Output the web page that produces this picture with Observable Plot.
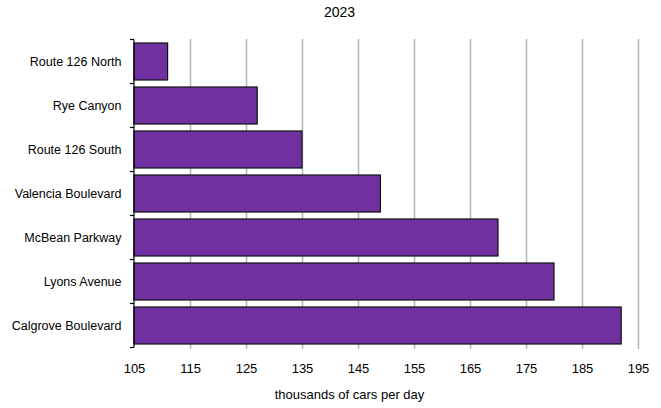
<!DOCTYPE html>
<html>
<head>
<meta charset="utf-8">
<script src="https://cdn.jsdelivr.net/npm/d3@7"></script>
<script src="https://cdn.jsdelivr.net/npm/@observablehq/plot@0.6"></script>
<style>
  html, body { margin: 0; padding: 0; background: #fff; }
  #chart svg { display: block; }
</style>
</head>
<body>
<div id="chart"></div>
<script>
// Average daily traffic by road, 2023
const roads = [
  "Route 126 North",
  "Rye Canyon",
  "Route 126 South",
  "Valencia Boulevard",
  "McBean Parkway",
  "Lyons Avenue",
  "Calgrove Boulevard"
];
const carsPerDay = [111, 127, 135, 149, 170, 180, 192];
const xTicks = [105, 115, 125, 135, 145, 155, 165, 175, 185, 195];
const title = "2023";
const xLabel = "thousands of cars per day";

const data = roads.map((road, i) => ({road, value: carsPerDay[i]}));

const FONT = "'Liberation Sans', Arial, sans-serif";
const W = 661, H = 408;
const M = {top: 39, right: 23, bottom: 59, left: 134};
const padInner = 0.155;

// Left axis: vertical line with short ticks at the category boundaries
function bandAxis(index, scales, values, dims) {
  const y = scales.y;
  const step = typeof y.step === "function" ? y.step()
    : (dims.height - dims.marginTop - dims.marginBottom) / roads.length;
  const bw = typeof y.bandwidth === "function" ? y.bandwidth() : step * (1 - padInner);
  const x0 = dims.marginLeft;
  const g = d3.create("svg:g").attr("stroke", "#000").attr("stroke-width", 1.2);
  const bounds = roads.map(r => y(r) - (step - bw) / 2);
  bounds.push(bounds[bounds.length - 1] + step);
  g.append("line")
    .attr("x1", x0).attr("x2", x0)
    .attr("y1", bounds[0]).attr("y2", bounds[bounds.length - 1]);
  for (const b of bounds) {
    g.append("line").attr("x1", x0 - 4).attr("x2", x0).attr("y1", b).attr("y2", b);
  }
  return g.node();
}

const chart = Plot.plot({
  width: W,
  height: H,
  marginTop: M.top,
  marginRight: M.right,
  marginBottom: M.bottom,
  marginLeft: M.left,
  style: {fontFamily: FONT, fontSize: "12.5px", color: "#000", background: "#fff"},
  x: {domain: [105, 195], ticks: xTicks},
  y: {domain: roads, paddingInner: padInner, paddingOuter: padInner / 2},
  marks: [
    Plot.gridX(xTicks.slice(1), {stroke: "#b3b3b3", strokeOpacity: 1, strokeWidth: 1.5}),
    Plot.barX(data, {x1: 105, x2: "value", y: "road", fill: "#7030a0", stroke: "#111", strokeWidth: 1.2}),
    Plot.axisX(xTicks, {tickSize: 0, tickPadding: 14, label: null, fontSize: 13}),
    Plot.axisY({tickSize: 0, tickPadding: 13, label: null, fontSize: 12.5}),
    bandAxis,
    Plot.text([title], {frameAnchor: "top", dx: -47, dy: -32, fontSize: 14, fill: "#000"}),
    Plot.text([xLabel], {frameAnchor: "bottom", dx: -37, dy: 49, fontSize: 13, fill: "#000"})
  ]
});

document.getElementById("chart").append(chart);
</script>
</body>
</html>
